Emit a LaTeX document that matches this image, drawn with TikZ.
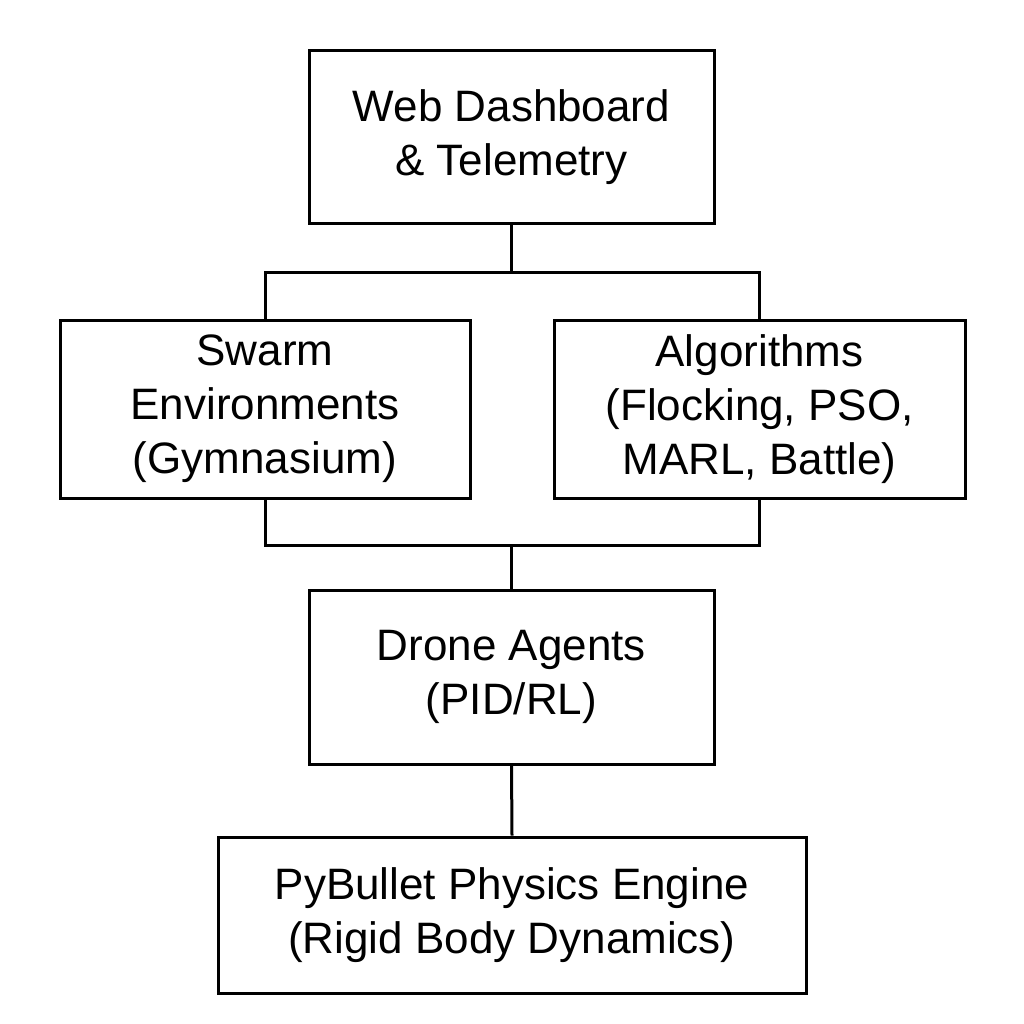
\documentclass[tikz,border=0pt]{standalone}
\usepackage{fontspec}
\setmainfont{Liberation Sans}
\begin{document}
\begin{tikzpicture}[x=1pt,y=-1pt,
  box/.style={draw,line width=3pt,align=center,inner sep=0pt,font=\fontsize{44}{54}\selectfont},
  conn/.style={line width=3pt}]
\useasboundingbox (0,0) rectangle (1024,1024);
\node[box,minimum width=405,minimum height=173] (top) at (511.5,137.5) {Web Dashboard\\\& Telemetry};
\node[box,minimum width=410,minimum height=178] (swarm) at (265,409) {Swarm\\Environments\\(Gymnasium)};
\node[box,minimum width=411,minimum height=178] (alg) at (759.5,409) {Algorithms\\(Flocking, PSO,\\MARL, Battle)};
\node[box,minimum width=405,minimum height=174] (drone) at (511.5,677) {Drone Agents\\(PID/RL)};
\node[box,minimum width=588,minimum height=156] (py) at (512,915) {PyBullet Physics Engine\\(Rigid Body Dynamics)};
\coordinate (j1) at (511.5,272);
\coordinate (j2) at (511.5,545);
\draw[conn] (top.south) -- (j1);
\draw[conn] (j1) -| (swarm.north);
\draw[conn] (j1) -| (alg.north);
\draw[conn] (swarm.south) |- (j2);
\draw[conn] (alg.south) |- (j2);
\draw[conn] (j2) -- (drone.north);
\draw[conn] (drone.south) -- (py.north);
\end{tikzpicture}
\end{document}
